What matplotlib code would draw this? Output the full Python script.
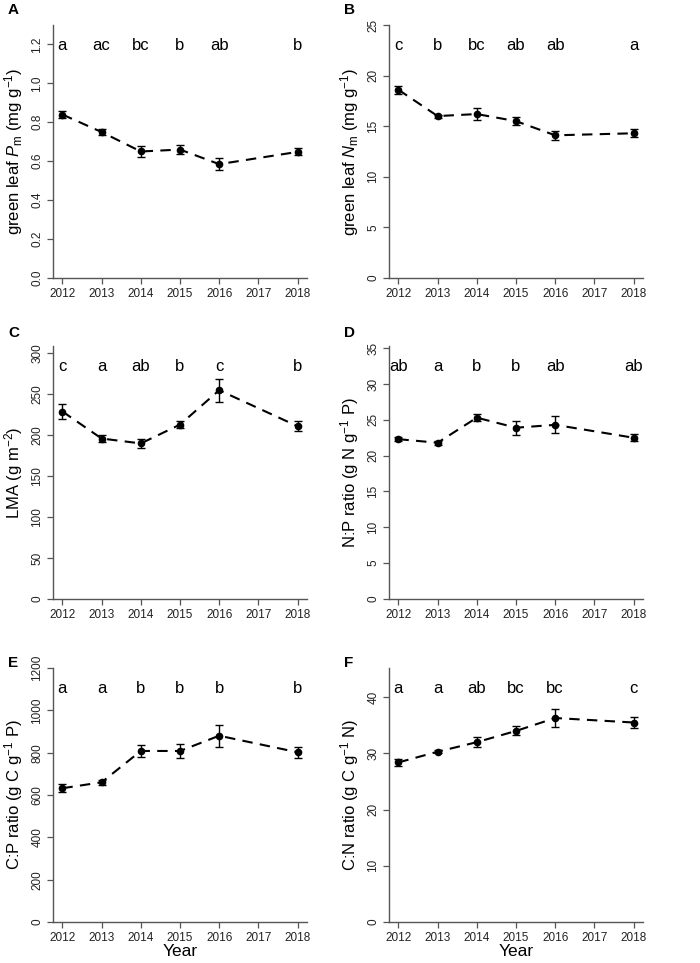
import numpy as np
import matplotlib.pyplot as plt

plt.rcParams['font.family'] = ['Liberation Sans', 'DejaVu Sans']
plt.rcParams['mathtext.fontset'] = 'custom'
plt.rcParams['mathtext.rm'] = 'Liberation Sans'
plt.rcParams['mathtext.it'] = 'Liberation Sans:italic'

years = [2012, 2013, 2014, 2015, 2016, 2018]
all_years = [2012, 2013, 2014, 2015, 2016, 2017, 2018]

# valores (media, erro padrao)
p_mean = [0.84, 0.75, 0.65, 0.66, 0.585, 0.648]
p_se = [0.02, 0.015, 0.03, 0.025, 0.03, 0.018]
p_let = ['a', 'ac', 'bc', 'b', 'ab', 'b']

n_mean = [18.6, 16.0, 16.2, 15.5, 14.1, 14.3]
n_se = [0.4, 0.15, 0.6, 0.4, 0.45, 0.4]
n_let = ['c', 'b', 'bc', 'ab', 'ab', 'a']

lma_mean = [229, 196, 190, 213, 255, 211]
lma_se = [9, 4, 5, 4, 14, 6]
lma_let = ['c', 'a', 'ab', 'b', 'c', 'b']

np_mean = [22.3, 21.8, 25.3, 23.9, 24.3, 22.5]
np_se = [0.3, 0.3, 0.5, 1.0, 1.2, 0.5]
np_let = ['ab', 'a', 'b', 'b', 'ab', 'ab']

cp_mean = [632, 660, 808, 808, 880, 802]
cp_se = [18, 12, 28, 32, 52, 25]
cp_let = ['a', 'a', 'b', 'b', 'b', 'b']

cn_mean = [28.4, 30.3, 32.0, 34.0, 36.3, 35.5]
cn_se = [0.6, 0.3, 0.9, 0.8, 1.6, 1.0]
cn_let = ['a', 'a', 'ab', 'bc', 'bc', 'c']

panels = [
    ('A', p_mean, p_se, p_let, 'green leaf $\\mathit{P}_\\mathrm{m}$ (mg g$^{-1}$)',
     1.3, np.arange(0, 1.21, 0.2), '%.1f'),
    ('B', n_mean, n_se, n_let, 'green leaf $\\mathit{N}_\\mathrm{m}$ (mg g$^{-1}$)',
     25, np.arange(0, 26, 5), '%d'),
    ('C', lma_mean, lma_se, lma_let, 'LMA (g m$^{-2}$)',
     309, np.arange(0, 301, 50), '%d'),
    ('D', np_mean, np_se, np_let, 'N:P ratio (g N g$^{-1}$ P)',
     35.3, np.arange(0, 36, 5), '%d'),
    ('E', cp_mean, cp_se, cp_let, 'C:P ratio (g C g$^{-1}$ P)',
     1200, np.arange(0, 1201, 200), '%d'),
    ('F', cn_mean, cn_se, cn_let, 'C:N ratio (g C g$^{-1}$ N)',
     45.2, np.arange(0, 41, 10), '%d'),
]

fig = plt.figure(figsize=(7, 9.63), dpi=100)

W, H = 700, 963
lefts = [53, 389]
rows = [(25, 278), (346, 599), (668, 922)]
lab_y = [10, 333, 663]
col_w = 254

axcol = '#555555'

for i, (lab, m, se, let, ylab, ytop, yt, fmt) in enumerate(panels):
    r, c = divmod(i, 2)
    top, bot = rows[r]
    ax = fig.add_axes([lefts[c] / W, 1 - bot / H, col_w / W, (bot - top) / H])
    ax.errorbar(years, m, yerr=se, fmt='o', color='black', ms=4.5,
                capsize=2.8, elinewidth=1, capthick=1, zorder=3)
    ax.plot(years, m, ls=(0, (5, 3.5)), color='black', lw=1.5, zorder=2)
    ax.set_xlim(2011.76, 2018.24)
    ax.set_ylim(0, ytop)
    ax.set_xticks(all_years)
    ax.set_yticks(yt)
    ax.set_yticklabels([fmt % v for v in yt], rotation=90, va='center')
    ax.tick_params(labelsize=8.5, length=4, width=0.9, color=axcol, pad=3,
                   labelcolor='#222222')
    for s in ['top', 'right']:
        ax.spines[s].set_visible(False)
    for s in ['left', 'bottom']:
        ax.spines[s].set_color(axcol)
        ax.spines[s].set_linewidth(1.0)
    for x, t in zip(years, let):
        ax.text(x, 0.92, t, transform=ax.get_xaxis_transform(),
                ha='center', va='center', fontsize=12)
    ax.set_ylabel(ylab, fontsize=12)
    ax.yaxis.set_label_coords(-0.11, 0.5)
    if r == 2:
        ax.set_xlabel('Year', fontsize=12.5)
        ax.xaxis.set_label_coords(0.5, -0.085)
    fig.text((8 if c == 0 else 344) / W, 1 - lab_y[r] / H,
             lab, fontsize=11, fontweight='bold', ha='left', va='center')

fig.savefig('out.png', dpi=100)
